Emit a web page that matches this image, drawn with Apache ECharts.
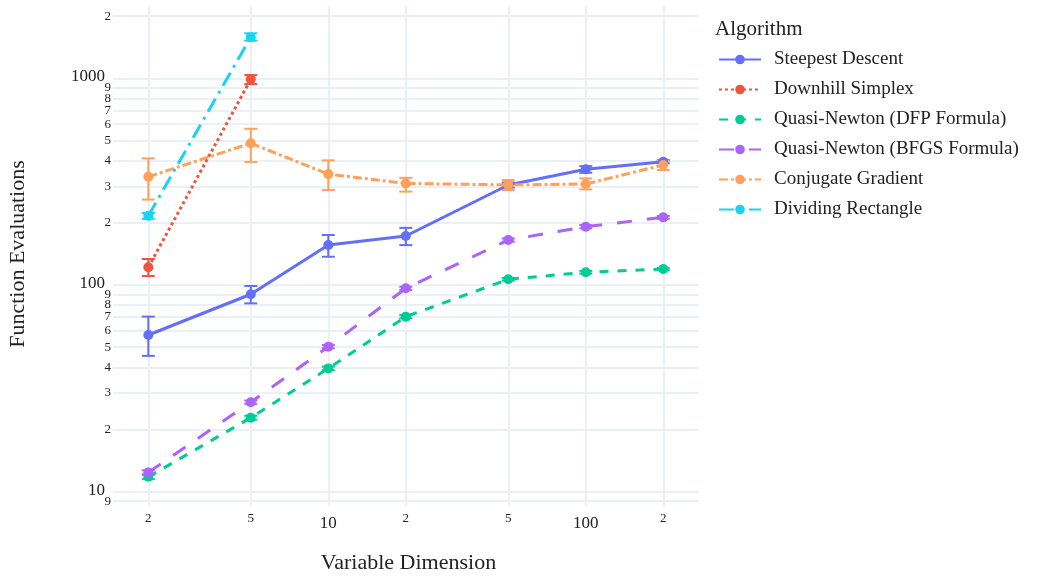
<!DOCTYPE html>
<html>
<head>
<meta charset="utf-8">
<script src="https://cdn.jsdelivr.net/npm/echarts@6/dist/echarts.min.js"></script>
<style>html,body{margin:0;padding:0;background:#fff}#chart{width:1039px;height:577px}</style>
</head>
<body>
<div id="chart"></div>
<script>
// ---------- data ----------
const dimsAll = [2, 5, 10, 20, 50, 100, 200];
const dimsShort = [2, 5];

const steepestDescent    = [57.3, 90.2, 156, 172.6, 304.7, 363, 395];
const steepestDescentLo  = [45.4, 81.5, 137, 156, 296, 349, 388];
const steepestDescentHi  = [70.3, 98.9, 174.5, 189, 313, 376, 402];

const downhillSimplex    = [121.8, 989];
const downhillSimplexLo  = [110.5, 938];
const downhillSimplexHi  = [133.6, 1037];

const quasiNewtonDFP     = [11.8, 22.8, 39.5, 70.3, 106.6, 115.2, 119.5];
const quasiNewtonDFPLo   = [11.5, 22.3, 38.7, 69, 105, 113.5, 118];
const quasiNewtonDFPHi   = [12.1, 23.3, 40.3, 71.6, 108.2, 117, 121];

const quasiNewtonBFGS    = [12.4, 27.1, 50.3, 96.4, 165, 191.4, 212.5];
const quasiNewtonBFGSLo  = [12.1, 26.6, 49.4, 94.7, 162, 188, 209];
const quasiNewtonBFGSHi  = [12.7, 27.6, 51.2, 98.1, 168, 195, 216];

const conjugateGradient   = [334, 485, 344, 310, 305, 308, 381];
const conjugateGradientLo = [259, 394, 288, 283, 288, 290, 360];
const conjugateGradientHi = [410, 570, 401, 330, 322, 328, 399];

const dividingRectangle   = [216, 1582];
const dividingRectangleLo = [209, 1521];
const dividingRectangleHi = [223, 1651];

const xTickValues = [2, 5, 10, 20, 50, 100, 200];
const xTickLabels = ['2', '5', '10', '2', '5', '100', '2'];
const yTickValues = [9, 10, 20, 30, 40, 50, 60, 70, 80, 90, 100, 200, 300, 400, 500, 600, 700, 800, 900, 1000, 2000];
const yTickLabels = ['9', '10', '2', '3', '4', '5', '6', '7', '8', '9', '100', '2', '3', '4', '5', '6', '7', '8', '9', '1000', '2'];

const xRange = [1.525, 275.3];
const yRange = [8.915, 2238];

// ---------- style ----------
const FONT = '"Liberation Serif", "Times New Roman", serif';
const TXT = '#222';
const GRID = '#EBF0F8';
const LW = 3;

const seriesDefs = [
  { name: 'Steepest Descent', x: dimsAll, y: steepestDescent, lo: steepestDescentLo, hi: steepestDescentHi, color: '#636efa', dash: 'solid' },
  { name: 'Downhill Simplex', x: dimsShort, y: downhillSimplex, lo: downhillSimplexLo, hi: downhillSimplexHi, color: '#EF553B', dash: [3, 3] },
  { name: 'Quasi-Newton (DFP Formula)', x: dimsAll, y: quasiNewtonDFP, lo: quasiNewtonDFPLo, hi: quasiNewtonDFPHi, color: '#00cc96', dash: [9, 9] },
  { name: 'Quasi-Newton (BFGS Formula)', x: dimsAll, y: quasiNewtonBFGS, lo: quasiNewtonBFGSLo, hi: quasiNewtonBFGSHi, color: '#ab63fa', dash: [15, 15] },
  { name: 'Conjugate Gradient', x: dimsAll, y: conjugateGradient, lo: conjugateGradientLo, hi: conjugateGradientHi, color: '#FFA15A', dash: [9, 3, 3, 3] },
  { name: 'Dividing Rectangle', x: dimsShort, y: dividingRectangle, lo: dividingRectangleLo, hi: dividingRectangleHi, color: '#19d3f3', dash: [15, 6, 3, 6] }
];

function nearest(arr, v) {
  let bi = 0, bd = Infinity;
  arr.forEach((a, i) => { const d = Math.abs(a - v); if (d < bd) { bd = d; bi = i; } });
  return bi;
}
const xTickLog = xTickValues.map(Math.log10);
const yTickLog = yTickValues.map(Math.log10);
function isMajor(v) { const l = Math.log10(v); return Math.abs(l - Math.round(l)) < 1e-9; }
const yFmt = v => { const i = nearest(yTickLog, v); return (isMajor(yTickValues[i]) ? '{maj|' : '{min|') + yTickLabels[i] + '}'; };
const yRich = {
  maj: { fontFamily: FONT, fontSize: 17, color: TXT, padding: [0, 6, 3, 0] },
  min: { fontFamily: FONT, fontSize: 13, color: TXT }
};

const series = [];
seriesDefs.forEach((s, k) => {
  series.push({
    name: s.name + ' err',
    type: 'custom',
    xAxisIndex: 0, yAxisIndex: 0,
    z: 1 + k * 0.01,
    silent: true,
    encode: { x: 0, y: [1, 2] },
    data: s.x.map((x, i) => [x, s.lo[i], s.hi[i]]),
    renderItem: (params, api) => {
      const x = api.value(0), lo = api.value(1), hi = api.value(2);
      const a = api.coord([x, lo]), b = api.coord([x, hi]);
      const w = 6.5;
      const st = { stroke: s.color, lineWidth: 2 };
      return { type: 'group', children: [
        { type: 'line', shape: { x1: a[0], y1: a[1], x2: b[0], y2: b[1] }, style: st },
        { type: 'line', shape: { x1: a[0] - w, y1: a[1], x2: a[0] + w, y2: a[1] }, style: st },
        { type: 'line', shape: { x1: b[0] - w, y1: b[1], x2: b[0] + w, y2: b[1] }, style: st }
      ]};
    }
  });
  series.push({
    name: s.name,
    type: 'line',
    xAxisIndex: 0, yAxisIndex: 0,
    z: 2 + k * 0.01,
    data: s.x.map((x, i) => [x, s.y[i]]),
    symbol: 'circle',
    symbolSize: 10,
    showAllSymbol: true,
    itemStyle: { color: s.color },
    lineStyle: { color: s.color, width: LW, type: s.dash, cap: 'butt' },
    emphasis: { disabled: true }
  });
});

const chart = echarts.init(document.getElementById('chart'), null, { renderer: 'canvas' });
chart.setOption({
  animation: false,
  backgroundColor: '#fff',
  textStyle: { fontFamily: FONT, color: TXT },
  title: {
    text: 'Algorithm',
    left: 710, top: 14,
    textStyle: { fontFamily: FONT, fontSize: 21, fontWeight: 'normal', color: TXT }
  },
  grid: { left: 118, right: 340, top: 6, bottom: 75, containLabel: false, outerBoundsMode: 'none' },
  legend: {
    orient: 'vertical',
    left: 713, top: 45,
    itemWidth: 42, itemHeight: 12,
    itemGap: 11,
    data: seriesDefs.map(s => s.name),
    textStyle: { fontFamily: FONT, fontSize: 19, color: TXT, padding: [0, 0, 0, 8] }
  },
  xAxis: [
    { type: 'log', logBase: 10, min: xRange[0], max: xRange[1], show: false },
    {
      type: 'value', position: 'bottom',
      min: Math.log10(xRange[0]), max: Math.log10(xRange[1]),
      axisLine: { show: false },
      axisTick: { show: true, customValues: xTickLog, length: 4, lineStyle: { color: GRID, width: 2 } },
      axisLabel: {
        customValues: xTickLog, margin: 10, showMinLabel: true, showMaxLabel: true,
        formatter: v => { const i = nearest(xTickLog, v); return (isMajor(xTickValues[i]) ? '{maj|' : '{min|') + xTickLabels[i] + '}'; },
        rich: {
          maj: { fontFamily: FONT, fontSize: 17, color: TXT, padding: [3, 0, 0, 0] },
          min: { fontFamily: FONT, fontSize: 13, color: TXT }
        }
      },
      splitLine: { show: true, lineStyle: { color: GRID, width: 2 } },
      name: 'Variable Dimension', nameLocation: 'middle', nameGap: 50,
      nameTextStyle: { fontFamily: FONT, fontSize: 22, color: TXT }
    }
  ],
  yAxis: [
    { type: 'log', logBase: 10, min: yRange[0], max: yRange[1], show: false },
    {
      type: 'value', position: 'left',
      min: Math.log10(yRange[0]), max: Math.log10(yRange[1]),
      axisLine: { show: false },
      axisTick: { show: true, customValues: yTickLog, length: 5, lineStyle: { color: GRID, width: 2 } },
      axisLabel: {
        customValues: yTickLog.slice(1), margin: 7, showMinLabel: true, showMaxLabel: true, hideOverlap: false,
        formatter: yFmt, rich: yRich
      },
      splitLine: { show: true, lineStyle: { color: GRID, width: 2 } },
      name: 'Function Evaluations', nameLocation: 'middle', nameGap: 89, nameRotate: 90,
      nameTextStyle: { fontFamily: FONT, fontSize: 22, color: TXT }
    },
    {
      type: 'value', position: 'left', offset: 0,
      min: Math.log10(yRange[0]), max: Math.log10(yRange[1]),
      axisLine: { show: false },
      axisTick: { show: false },
      splitLine: { show: false },
      axisLabel: {
        customValues: yTickLog.slice(0, 1), margin: 7, showMinLabel: true, showMaxLabel: true,
        formatter: yFmt, rich: yRich
      }
    }
  ],
  series: series
});
</script>
</body>
</html>
